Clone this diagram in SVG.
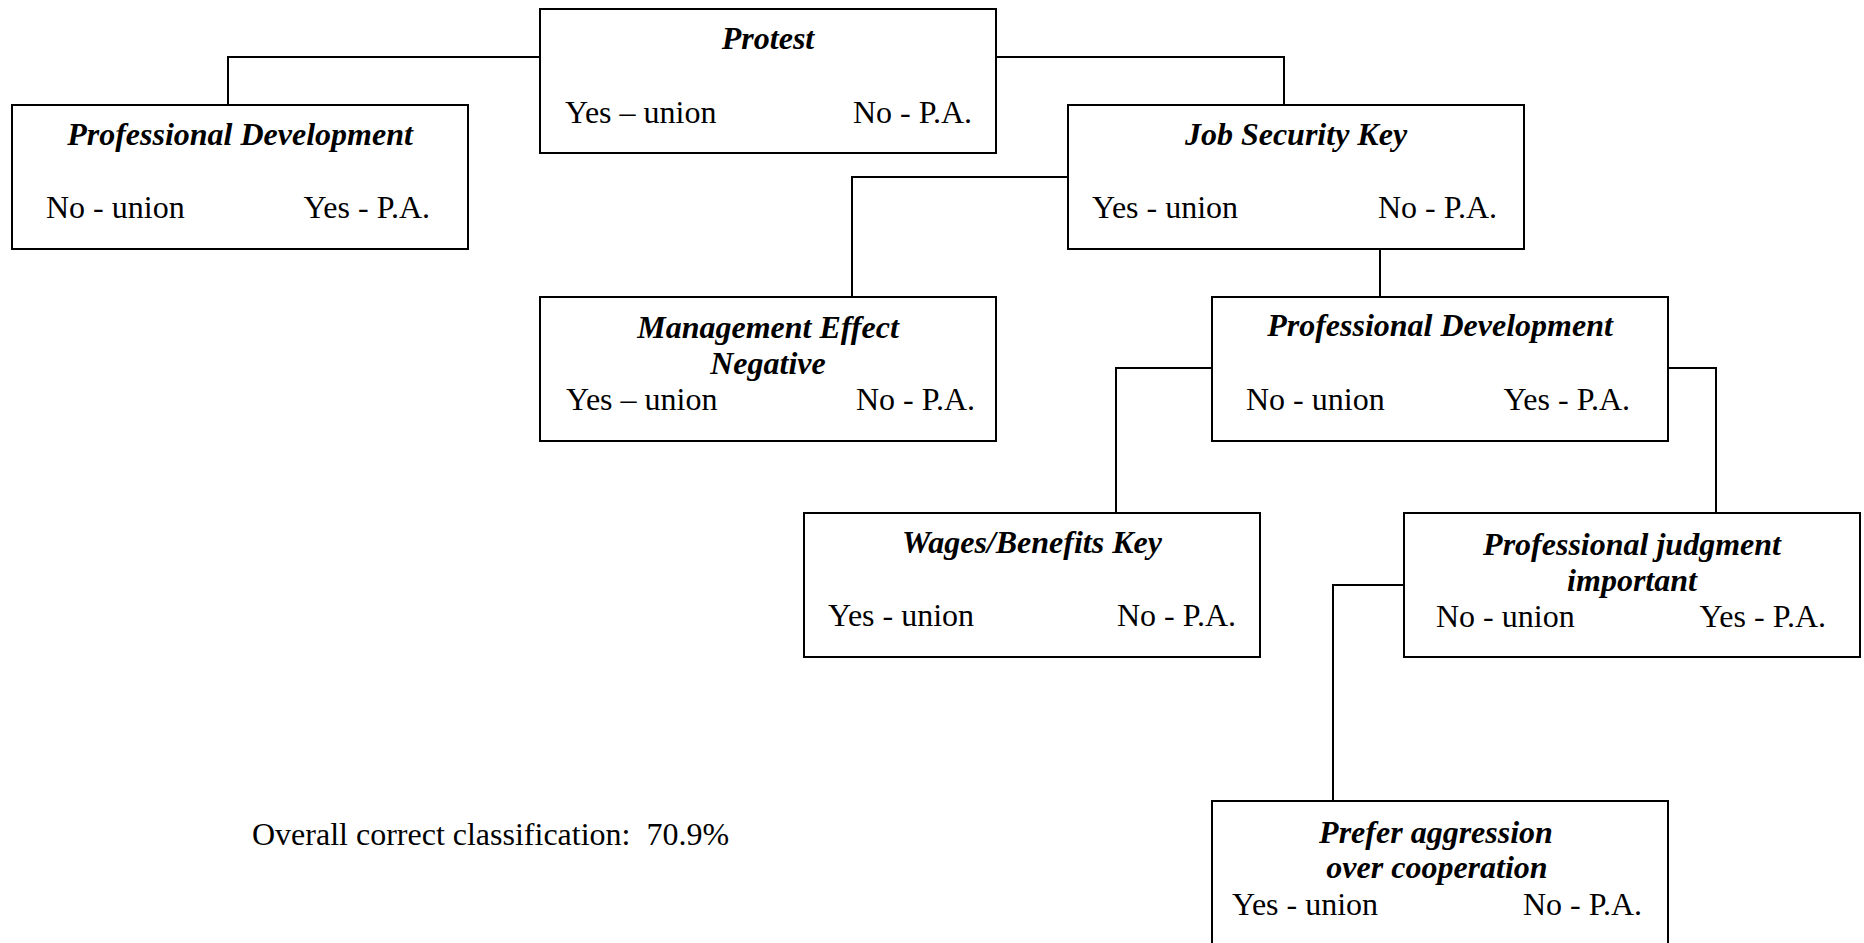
<svg xmlns="http://www.w3.org/2000/svg" width="1864" height="943" viewBox="0 0 1864 943">
<style>
.box{fill:#fff;stroke:#000;stroke-width:2}
.con{fill:none;stroke:#000;stroke-width:2}
text{font-family:"Liberation Serif","Times New Roman",serif;font-size:32px;fill:#000}
.t{font-weight:bold;font-style:italic;text-anchor:middle}
.r{text-anchor:end}
</style>
<rect x="0" y="0" width="1864" height="943" fill="#fff"/>
<g id="connectors">
<polyline class="con" points="540,57 228,57 228,105"/>
<polyline class="con" points="996,57 1284,57 1284,105"/>
<polyline class="con" points="1068,177 852,177 852,297"/>
<polyline class="con" points="1380,249 1380,297"/>
<polyline class="con" points="1212,368 1116,368 1116,513"/>
<polyline class="con" points="1668,368 1716,368 1716,513"/>
<polyline class="con" points="1404,585 1333,585 1333,801"/>
</g>
<g id="protest">
<rect class="box" x="540" y="9" width="456" height="144"/>
<text class="t" x="768" y="49">Protest</text>
<text x="565" y="123">Yes – union</text>
<text class="r" x="972" y="123">No - P.A.</text>
</g>
<g id="profdev1">
<rect class="box" x="12" y="105" width="456" height="144"/>
<text class="t" x="240" y="145">Professional Development</text>
<text x="46" y="218">No - union</text>
<text class="r" x="430" y="218">Yes - P.A.</text>
</g>
<g id="jobsecurity">
<rect class="box" x="1068" y="105" width="456" height="144"/>
<text class="t" x="1296" y="145">Job Security Key</text>
<text x="1092" y="218">Yes - union</text>
<text class="r" x="1497" y="218">No - P.A.</text>
</g>
<g id="management">
<rect class="box" x="540" y="297" width="456" height="144"/>
<text class="t" x="768" y="338">Management Effect</text>
<text class="t" x="768" y="374">Negative</text>
<text x="566" y="410">Yes – union</text>
<text class="r" x="975" y="410">No - P.A.</text>
</g>
<g id="profdev2">
<rect class="box" x="1212" y="297" width="456" height="144"/>
<text class="t" x="1440" y="336">Professional Development</text>
<text x="1246" y="410">No - union</text>
<text class="r" x="1630" y="410">Yes - P.A.</text>
</g>
<g id="wages">
<rect class="box" x="804" y="513" width="456" height="144"/>
<text class="t" x="1032" y="553">Wages/Benefits Key</text>
<text x="828" y="626">Yes - union</text>
<text class="r" x="1236" y="626">No - P.A.</text>
</g>
<g id="judgment">
<rect class="box" x="1404" y="513" width="456" height="144"/>
<text class="t" x="1632" y="555">Professional judgment</text>
<text class="t" x="1632" y="591">important</text>
<text x="1436" y="627">No - union</text>
<text class="r" x="1826" y="627">Yes - P.A.</text>
</g>
<g id="aggression">
<rect class="box" x="1212" y="801" width="456" height="146"/>
<text class="t" x="1436" y="843">Prefer aggression</text>
<text class="t" x="1437" y="878">over cooperation</text>
<text x="1232" y="915">Yes - union</text>
<text class="r" x="1642" y="915">No - P.A.</text>
</g>
<g id="summary">
<text x="252" y="845" xml:space="preserve">Overall correct classification:  70.9%</text>
</g>
</svg>
